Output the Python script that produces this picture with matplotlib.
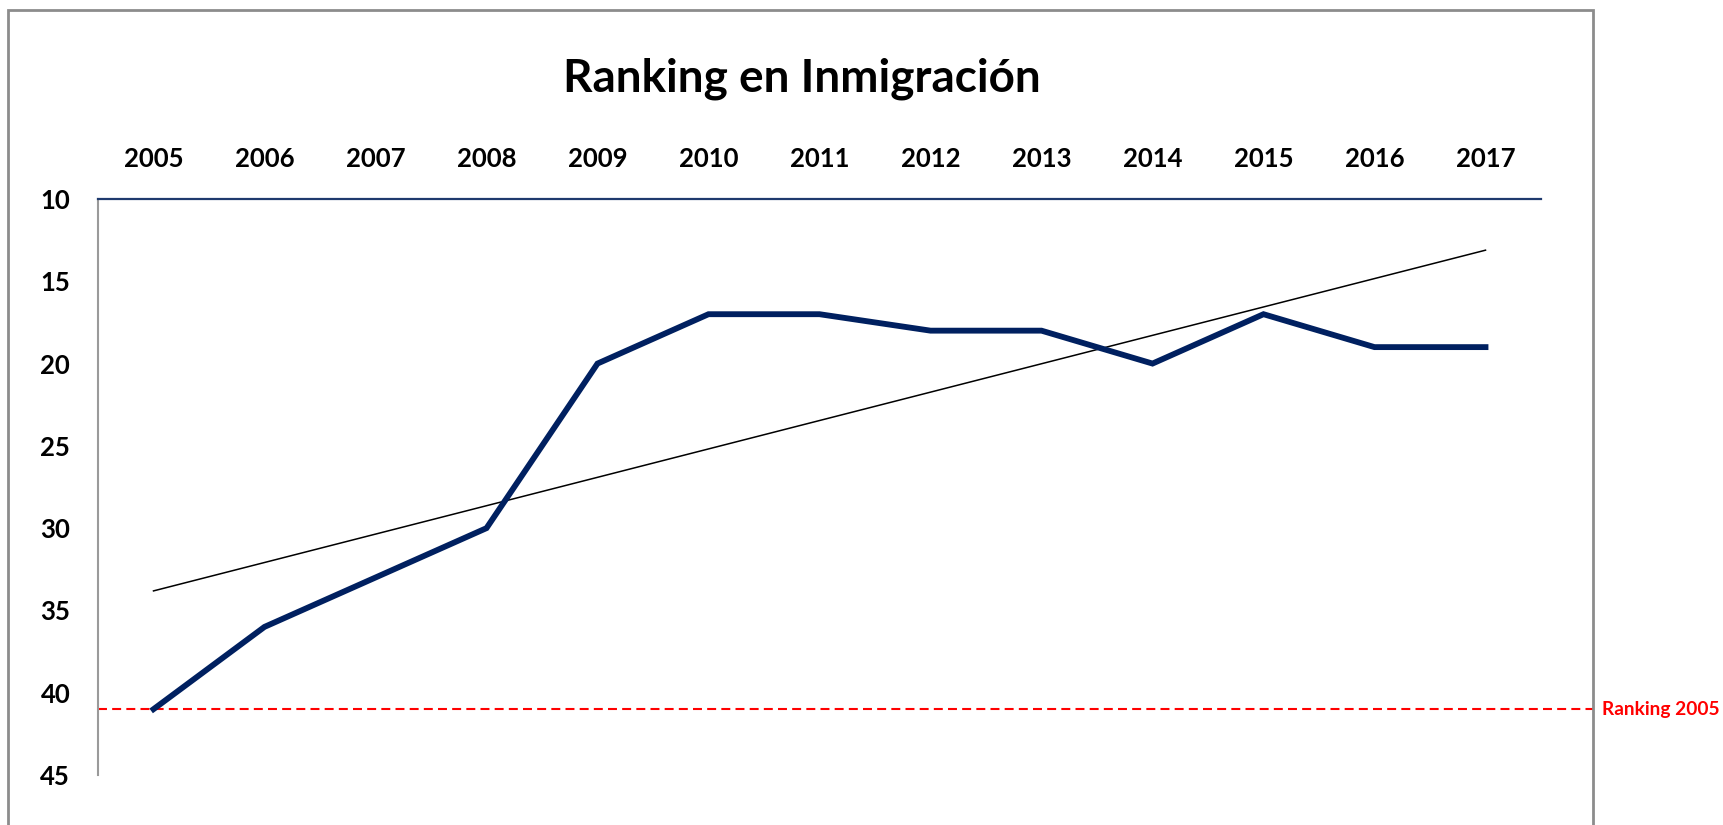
import numpy as np
import matplotlib.pyplot as plt
from matplotlib.patches import Rectangle

years = ['2005', '2006', '2007', '2008', '2009', '2010', '2011',
         '2012', '2013', '2014', '2015', '2016', '2017']
ranking = [41, 36, 33, 30, 20, 17, 17, 18, 18, 20, 17, 19, 19]
ranking_2005 = 41
y_ticks = [10, 15, 20, 25, 30, 35, 40, 45]

plt.rcParams['font.family'] = ['Lato', 'DejaVu Sans']

W, H = 1723, 825
fig = plt.figure(figsize=(W / 100, H / 100), dpi=100)
ax = fig.add_axes([98 / W, 1 - 775 / H, (1541 - 98) / W, (775 - 199) / H])

x = np.arange(len(years))
ax.plot(x, ranking, color='#002060', lw=4.2, solid_joinstyle='miter', zorder=3)

# linear trend
k, b = np.polyfit(x, ranking, 1)
ax.plot(x, k * x + b, color='black', lw=1.1, zorder=2)

# reference line, runs out to the frame
ax.axhline(ranking_2005, xmin=0, xmax=(1593 - 98) / (1541 - 98), color='#ff0000',
           lw=1.5, ls=(0, (4.3, 2.5)), clip_on=False, zorder=1)
fig.text(1602 / W, 1 - 709 / H, 'Ranking 2005', color='#ff0000', fontsize=13.8,
         fontweight='bold', va='center', ha='left')

ax.set_xlim(-0.5, 12.5)
ax.set_ylim(45, 10)
ax.set_xticks(x)
ax.set_xticklabels(years)
ax.set_yticks(y_ticks)
ax.xaxis.tick_top()
ax.tick_params(axis='x', length=0, pad=20, labelsize=18.5)
ax.tick_params(axis='y', length=0, pad=20, labelsize=18.5)
for lab in ax.get_xticklabels() + ax.get_yticklabels():
    lab.set_fontweight('bold')

ax.spines['right'].set_visible(False)
ax.spines['bottom'].set_visible(False)
ax.spines['top'].set_color('#1f3a6e')
ax.spines['top'].set_linewidth(1.6)
ax.spines['left'].set_color('#9a9a9a')
ax.spines['left'].set_linewidth(1.5)

fig.text(802 / W, 1 - 79 / H, 'Ranking en Inmigración', fontsize=33,
         fontweight='bold', ha='center', va='center')

# outer chart frame
fig.patches.append(Rectangle((8 / W, -0.05), (1593 - 8) / W, 1.05 - 10 / H,
                             transform=fig.transFigure, fill=False,
                             edgecolor='#8c8c8c', lw=2))

fig.savefig('out.png', dpi=100)
